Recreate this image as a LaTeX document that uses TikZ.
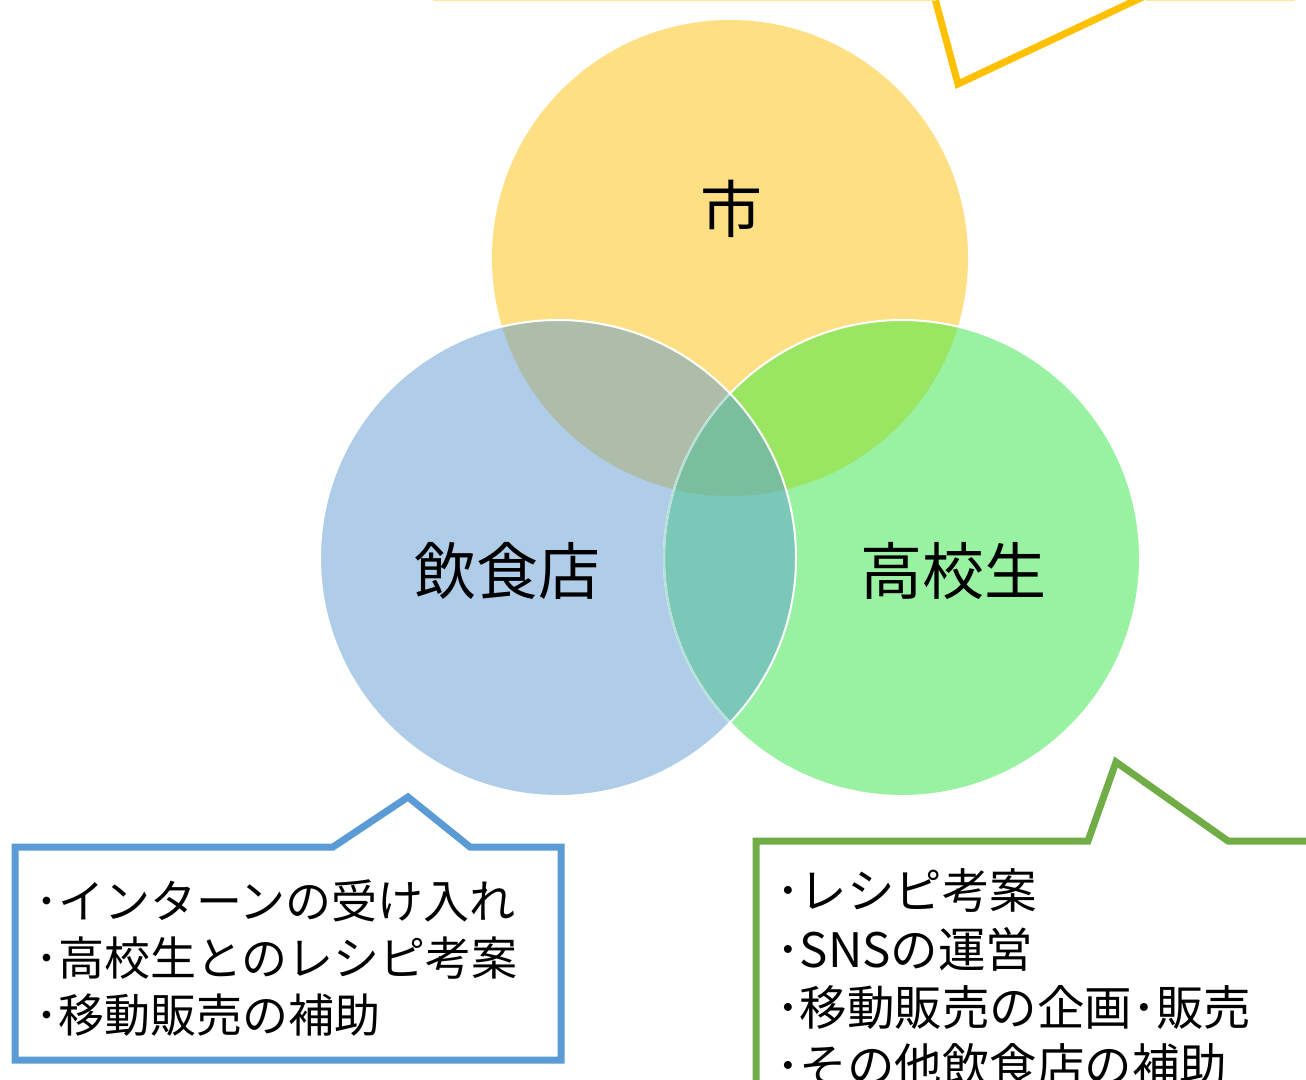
\documentclass[tikz,border=0pt]{standalone}
\usepackage{fontspec}
\newfontfamily\jp{Noto Sans CJK JP}
\definecolor{cy}{HTML}{FFDF84}
\definecolor{cb}{HTML}{AFCDE9}
\definecolor{cg}{HTML}{98F2A1}
\definecolor{cyb}{HTML}{ADBDA9}
\definecolor{cyg}{HTML}{9AE562}
\definecolor{cbg}{HTML}{7BC8B8}
\definecolor{cybg}{HTML}{7ABE9D}
\definecolor{ctop}{HTML}{FFC000}
\definecolor{ctopl}{HTML}{FFE699}
\definecolor{cblue}{HTML}{5B9BD5}
\definecolor{cgreen}{HTML}{70AD47}
\tikzset{
  biglabel/.style={inner sep=0pt, font=\jp\fontsize{62}{62}\selectfont},
  boxline/.style={inner sep=0pt, anchor=west, font=\jp\fontsize{46}{50}\selectfont},
  boxlineg/.style={inner sep=0pt, anchor=west, font=\jp\fontsize{47.5}{50}\selectfont},
  callout/.style={line width=7pt, fill=white, line join=miter},
  rim/.style={white, line width=2pt}
}
\begin{document}
\begin{tikzpicture}[x=1pt,y=-1pt]
\useasboundingbox (0,0) rectangle (1306,1079);
\clip (0,0) rectangle (1306,1079);
\fill[white] (0,0) rectangle (1306,1079);
% centres
\coordinate (Y) at (730,258);
\coordinate (B) at (558,558);
\coordinate (G) at (902,558);
\def\R{238}
% base fills
\fill[cy] (Y) circle (\R);
\fill[cb] (B) circle (\R);
\fill[cg] (G) circle (\R);
\begin{scope}
  \clip (Y) circle (\R);
  \fill[cyb] (B) circle (\R);
  \fill[cyg] (G) circle (\R);
\end{scope}
\begin{scope}
  \clip (B) circle (\R);
  \fill[cbg] (G) circle (\R);
\end{scope}
\begin{scope}
  \clip (Y) circle (\R);
  \clip (B) circle (\R);
  \fill[cybg] (G) circle (\R);
\end{scope}
% rims
\draw[rim] (B) circle (\R);
\draw[rim] (G) circle (\R);
\begin{scope}
  \clip (B) circle (\R-1.5);
  \draw[line width=2pt, color=cbg!55!white] (G) circle (\R);
\end{scope}
% labels
\node[biglabel] (shi) at (731,209) {市};
\node[biglabel] (inshoku) at (507,571) {飲食店};
\node[biglabel] (koko) at (953,571) {高校生};
% top callout (box above the picture)
\coordinate (t1) at (433,-5);
\coordinate (t2) at (934,-5);
\coordinate (t3) at (958,84);
\coordinate (t4) at (1147,-5);
\coordinate (t5) at (1295,-5);
\draw[callout, draw=ctop] (t1) -- (t2) -- (t3) -- (t4) -- (t5) -- (1295,-60) -- (433,-60) -- cycle;
\draw[ctopl, line width=1.2pt] (433,0.6) -- (936,0.6);
\draw[ctopl, line width=1.2pt] (1146,0.6) -- (1295,0.6);
% left callout
\coordinate (b1) at (15,847);
\coordinate (b2) at (333,847);
\coordinate (b3) at (408,797);
\coordinate (b4) at (470,847);
\coordinate (b5) at (561,847);
\coordinate (b6) at (561,1060);
\coordinate (b7) at (15,1060);
\draw[callout, draw=cblue] (b1) -- (b2) -- (b3) -- (b4) -- (b5) -- (b6) -- (b7) -- cycle;
\node[boxline] (bl1) at (35,901) {･インターンの受け入れ};
\node[boxline] (bl2) at (35,958) {･高校生とのレシピ考案};
\node[boxline] (bl3) at (35,1015) {･移動販売の補助};
% right callout
\coordinate (g1) at (756,841);
\coordinate (g2) at (1088,841);
\coordinate (g3) at (1116,762);
\coordinate (g4) at (1228,841);
\coordinate (g5) at (1330,841);
\coordinate (g6) at (1330,1120);
\coordinate (g7) at (756,1120);
\draw[callout, draw=cgreen] (g1) -- (g2) -- (g3) -- (g4) -- (g5) -- (g6) -- (g7) -- cycle;
\node[boxlineg] (gl1) at (776,891) {･レシピ考案};
\node[boxlineg] (gl2) at (776,949) {･SNSの運営};
\node[boxlineg] (gl3) at (776,1007) {･移動販売の企画･販売};
\node[boxlineg] (gl4) at (776,1065) {･その他飲食店の補助};
\end{tikzpicture}
\end{document}
